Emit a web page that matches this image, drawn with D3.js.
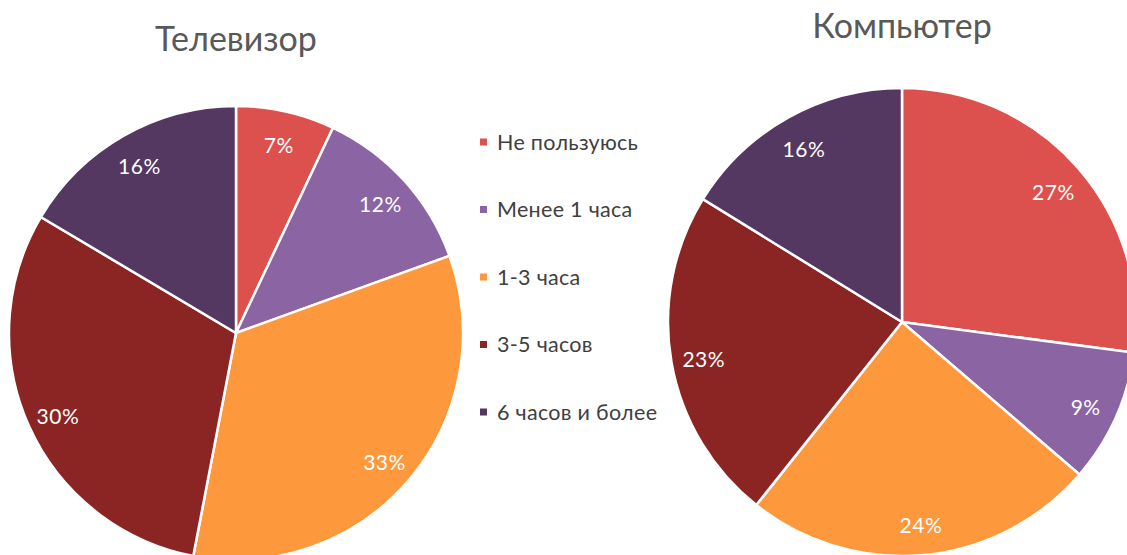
<!DOCTYPE html>
<html>
<head>
<meta charset="utf-8">
<script src="https://cdn.jsdelivr.net/npm/d3@7"></script>
<style>
  body { margin: 0; background: #fff; }
  svg { display: block; font-family: Lato, "Open Sans", sans-serif; }
</style>
</head>
<body>
<svg id="chart" width="1127" height="555"></svg>
<script>
'use strict';

var categories = ['Не пользуюсь', 'Менее 1 часа', '1-3 часа', '3-5 часов', '6 часов и более'];
var colors = ['#dc504e', '#8b64a3', '#fd983c', '#8a2524', '#543862'];
var tvValues = [7.0, 12.4, 33.4, 30.4, 16.4];
var pcValues = [27.1, 9.2, 24.4, 23.1, 16.2];

(function () {
  var svg = d3.select('#chart');
  var color = d3.scaleOrdinal().domain(categories).range(colors);

  function buildPie(values, title, cx, cy, radius, titleY) {
    var data = categories.map(function (c, i) { return { name: c, value: values[i] }; });
    var pie = d3.pie().sort(null).value(function (d) { return d.value; });
    var arc = d3.arc().innerRadius(0).outerRadius(radius);
    var labelArc = d3.arc().innerRadius(radius * 0.86).outerRadius(radius * 0.86);

    svg.append('text')
        .attr('x', cx)
        .attr('y', titleY)
        .attr('text-anchor', 'middle')
        .style('font-size', '34px')
        .style('fill', '#595959')
        .text(title);

    var g = svg.append('g')
        .attr('transform', 'translate(' + cx + ',' + cy + ')');
    var slices = g.selectAll('.arc')
        .data(pie(data))
      .enter().append('g')
        .attr('class', 'arc');
    slices.append('path')
        .attr('d', arc)
        .style('fill', function (d) { return color(d.data.name); })
        .style('stroke', '#fff')
        .style('stroke-width', 2.5);
    slices.append('text')
        .attr('transform', function (d) { return 'translate(' + labelArc.centroid(d) + ')'; })
        .attr('text-anchor', 'middle')
        .attr('dy', '0.5em')
        .style('fill', '#fff')
        .style('font-size', '21px')
        .style('letter-spacing', '0.5px')
        .text(function (d) { return Math.round(d.data.value) + '%'; });
  }

  buildPie(tvValues, 'Телевизор', 236, 333, 227, 51);
  buildPie(pcValues, 'Компьютер', 902, 322, 234, 38);

  var legend = svg.append('g')
      .attr('transform', 'translate(480,142)');
  var rows = legend.selectAll('.row')
      .data(categories)
    .enter().append('g')
      .attr('class', 'row')
      .attr('transform', function (d, i) { return 'translate(0,' + (i * 67.5) + ')'; });
  rows.append('rect')
      .attr('x', 0)
      .attr('y', -3.5)
      .attr('width', 7)
      .attr('height', 7)
      .style('fill', function (d) { return color(d); });
  rows.append('text')
      .attr('x', 17)
      .attr('dy', '0.35em')
      .style('font-size', '21.5px')
      .style('letter-spacing', '0.3px')
      .style('fill', '#404040')
      .text(function (d) { return d; });
})();
</script>
</body>
</html>
